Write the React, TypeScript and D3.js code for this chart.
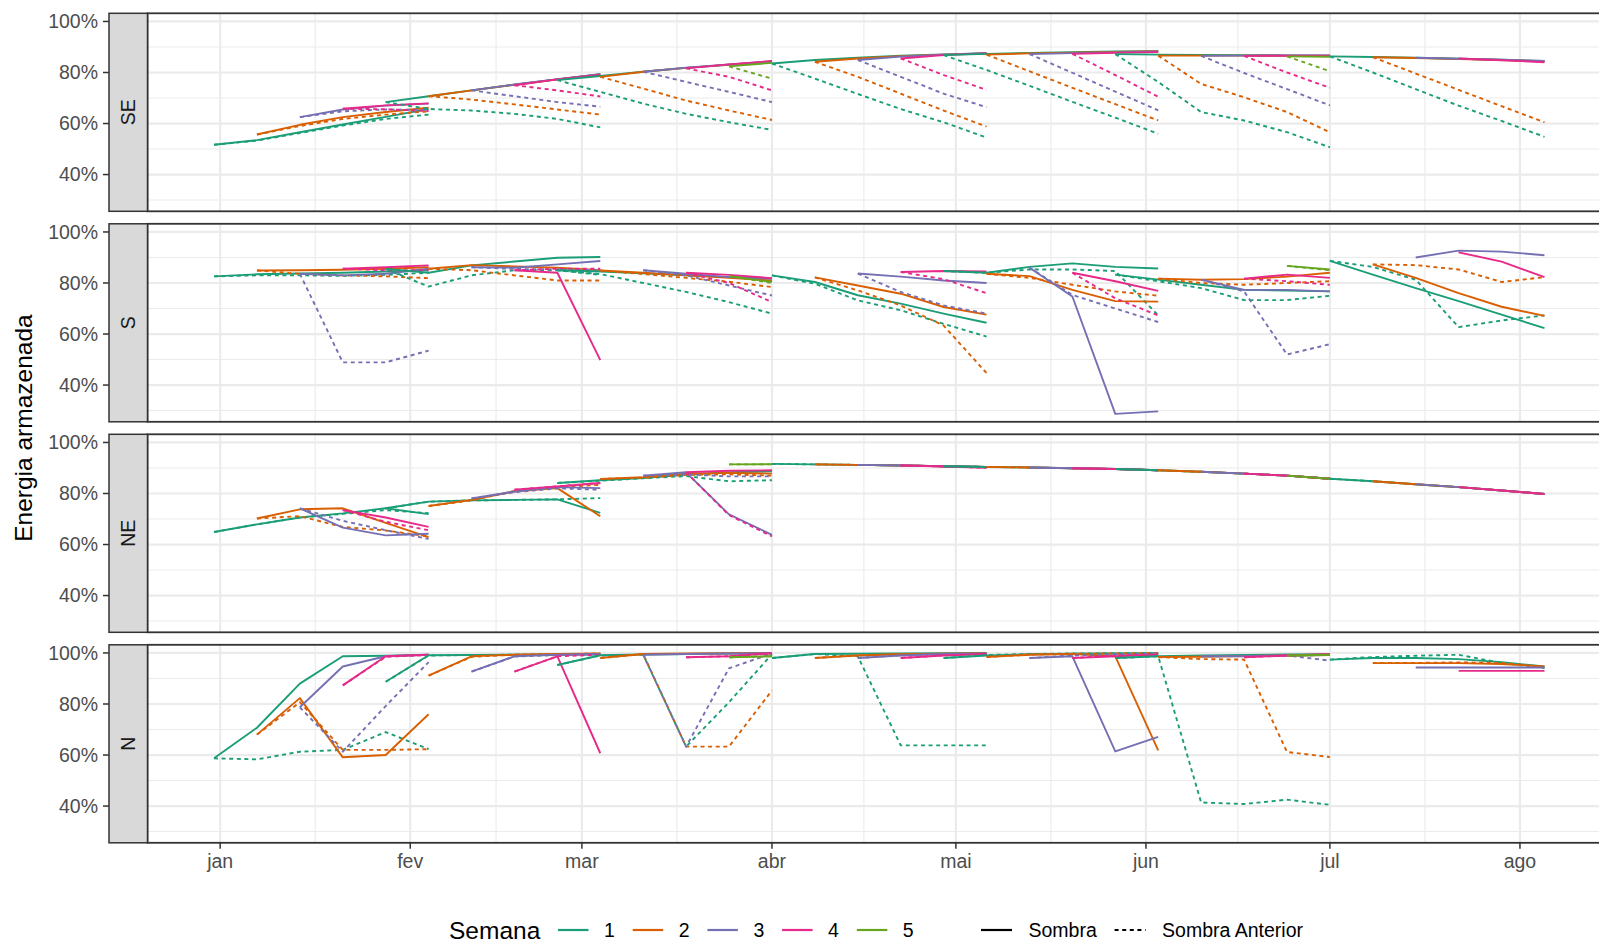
import React, { useEffect } from "react";
import * as d3 from "d3";

// Weekly reference dates (end of each operative week)
const weekDates = [
  "2021-12-31", "2022-01-07", "2022-01-14", "2022-01-21", "2022-01-28", "2022-02-04",
  "2022-02-11", "2022-02-18", "2022-02-25", "2022-03-04", "2022-03-11", "2022-03-18",
  "2022-03-25", "2022-04-01", "2022-04-08", "2022-04-15", "2022-04-22", "2022-04-29",
  "2022-05-06", "2022-05-13", "2022-05-20", "2022-05-27", "2022-06-03", "2022-06-10",
  "2022-06-17", "2022-06-24", "2022-07-01", "2022-07-08", "2022-07-15", "2022-07-22",
  "2022-07-29", "2022-08-05",
];

// Each run starts at one of the weekly dates and has one value per following week
const runStartIndex = [0, 1, 2, 3, 4, 5, 6, 7, 8, 9, 10, 11, 12, 13, 14, 15, 16, 17, 18, 19, 20, 21, 22, 23, 24, 25, 26, 27, 28, 29];
const runWeek = [1, 2, 3, 4, 1, 2, 3, 4, 1, 2, 3, 4, 5, 1, 2, 3, 4, 1, 2, 3, 4, 1, 2, 3, 4, 5, 1, 2, 3, 4];

const subsystems = ["SE", "S", "NE", "N"];
const weekLabels = ["1", "2", "3", "4", "5"];
const weekColors = ["#1B9E77", "#D95F02", "#7570B3", "#E7298A", "#66A61E"];
const linetypeLabels = ["Sombra", "Sombra Anterior"];
const monthLabels = ["jan", "fev", "mar", "abr", "mai", "jun", "jul", "ago"];
const yMajor = [40, 60, 80, 100];
const yMinor = [30, 50, 70, 90];

type Run = number[] | null;

// ---- SE ----
const seSombra: Run[] = [
  [51.7, 53.5, 56.6, 59.6, 62.6, 65.7], [55.7, 59.5, 62.5, 64.5, 66.2], [62.5, 65.5, 67, 67.8], [65.8, 67.1, 67.9],
  [68.4, 70.7, 73, 75.2, 77.3, 79.3], [70.7, 73, 75.2, 77.3, 79.2], [73, 75.3, 77.4, 79.3], [75, 77.3, 79.1],
  [77, 78.6, 80.3, 81.8, 83, 84], [78.3, 80.3, 81.8, 83.1, 84.2], [80.3, 81.9, 83.2, 84.3], [81.6, 83.2, 84.5], [82.4, 83.8],
  [83.5, 84.9, 85.8, 86.6, 87.1, 87.6], [84.2, 85.5, 86.4, 87, 87.5], [84.9, 86.2, 87, 87.6], [85.5, 86.8, 87.5],
  [86.8, 87.3, 87.7, 88, 88.2, 88.3], [87, 87.5, 87.8, 88.1, 88.3], [87.2, 87.6, 87.9, 88.2], [87.3, 87.7, 88],
  [87.2, 87, 86.9, 86.8, 86.7, 86.6], [86.6, 86.6, 86.6, 86.5, 86.5], [86.5, 86.6, 86.7, 86.7], [86.5, 86.6, 86.6], [86.3, 86.2],
  [86.3, 86.1, 85.8, 85.4, 85, 84.5], [86, 85.7, 85.3, 84.9, 84.4], [85.8, 85.4, 85, 84.5], [85.5, 84.8, 84],
];
const seAnterior: Run[] = [
  [51.7, 53.3, 56.3, 59.2, 61.8, 63.5], [55.7, 59, 61.8, 63.5, 64.8], [62.5, 64.8, 65.5, 65.3], [65.8, 65.6, 64.9],
  [68.4, 65.7, 65.1, 63.8, 61.8, 58.5], [70.7, 69.4, 67.5, 65.5, 63.5], [73, 70.7, 68.4, 66.6], [75, 73, 70.6],
  [77, 72.4, 67.8, 63.8, 60.5, 57.5], [78.3, 73.7, 69, 65.1, 61.4], [80.3, 76.3, 72.4, 68.4], [81.6, 78.3, 73], [82.4, 77.6],
  [83.5, 77.6, 71.6, 65.7, 60.5, 54.5], [84.2, 78.3, 71.7, 65.1, 58.8], [84.9, 78.3, 71.7, 66.4], [85.5, 79, 73.2],
  [86.8, 81, 74.8, 68.5, 62.3, 56], [87, 80.5, 74, 67.6, 61.2], [87.2, 79.9, 72.5, 65.2], [87.3, 79, 70.5],
  [87.2, 76.3, 64.5, 61.2, 56.6, 50.7], [86.6, 75.5, 70.3, 64.5, 56.6], [86.5, 79.8, 73.5, 67.1], [86.5, 80, 74], [86.3, 80.5],
  [86.3, 80, 73.5, 67, 61, 54.8], [86, 79.6, 73.2, 66.8, 60.5], null, null,
];

// ---- S ----
const sSombra: Run[] = [
  [82.6, 83.4, 83.7, 84, 84.5, 85], [84.9, 85, 85.2, 85.6, 86.2], [83.6, 83, 83.6, 85.6], [85.6, 86.2, 86.9],
  [85.5, 84, 86.9, 88.4, 89.9, 90.2], [85.6, 87, 86.5, 86, 85], [86.2, 86, 87.3, 88.6], [85, 84, 49.8],
  [85, 84.5, 83.8, 83, 82.3, 81.7], [84.9, 84, 83, 82, 81], [85, 83.6, 82.3, 81.7], [84, 83.2, 81.9], [82.7, 80.4],
  [83, 80.4, 75.2, 71.9, 68, 64.4], [82.2, 79, 75.8, 70.6, 67.6], [83.7, 82.5, 81, 80], [84.3, 84.7, 84.5],
  [84.7, 84, 86.3, 87.7, 86.3, 85.7], [83.6, 82.7, 77.3, 72.9, 72.7], [86, 74.7, 28.7, 29.7], [84, 80.7, 76.9],
  [83.3, 81.3, 79.3, 77.3, 77, 76.7], [81.7, 81.3, 81.5, 82.5, 84], [81.3, 77.3, 77.3, 76.7], [81.7, 83.3, 82], [86.7, 85.3],
  [88.7, 83.3, 78, 72.9, 67.6, 62.3], [87.3, 82, 76, 70.7, 67.1], [90, 92.7, 92.3, 90.9], [92, 88.4, 82.3],
];
const sAnterior: Run[] = [
  [82.6, 83, 83, 82.8, 83.2, 84], [84.9, 83.6, 83, 82.6, 81.9], [83.6, 48.9, 48.9, 53.5], [85.6, 85, 85],
  [85.5, 78.6, 83, 85, 85, 83.2], [85.6, 85, 83, 81, 81], [86.2, 85.5, 85.3, 85], [85, 85.6, 85.6],
  [85, 83.5, 80, 76.5, 72.5, 68], [84.9, 83.5, 82, 80.5, 78.4], [85, 83, 79, 75.1], [84, 80, 72.5], [82.7, 80],
  [83, 79.7, 73.2, 69.3, 64, 59], [82.2, 77.1, 71.2, 63.3, 44.7], [83.7, 76.5, 71.2, 68], [84.3, 81.5, 76],
  [84.7, 84, 85.3, 85.3, 84.7, 67.3], [83.6, 82, 79.3, 76.7, 75], [86, 75.3, 70, 64.7], [84, 74, 67.3],
  [83.3, 80.7, 78, 73.3, 73.3, 75], [81.7, 80, 79.3, 80, 80.7], [81.3, 76.7, 52, 56], [81.7, 80.7, 79.3], [86.7, 85],
  [88.7, 86.3, 81.3, 62.7, 65.3, 67.3], [87.3, 87, 85.3, 80.4, 82.3], null, null,
];

// ---- NE ----
const neSombra: Run[] = [
  [64.9, 67.9, 70.6, 72.2, 74.2, 71.9], [70.2, 73.8, 74.2, 68.5, 62.9], [74.2, 66.6, 63.6, 64.2], [73.5, 70.6, 66.9],
  [74.2, 76.8, 77.3, 77.5, 77.7, 72.4], [75.1, 77.5, 80.8, 82.1, 71.1], [78.1, 80.8, 82.5, 82.1], [81.5, 82.8, 84.1],
  [84.1, 85.2, 86.1, 87.4, 88.3, 88.7], [85.7, 86.4, 87.8, 88.1, 87.8], [87, 88.3, 71.8, 63.8], [88.3, 88.9, 89.1], [91.4, 91.5],
  [91.6, 91.4, 91.2, 91, 90.7, 90.4], [91.4, 91.2, 91, 90.7, 90.4], [91.2, 91, 90.7, 90.4], [91, 90.6, 90.1],
  [90.7, 90.4, 90.2, 89.9, 89.6, 89.1], [90.4, 90.2, 89.9, 89.6, 89.1], [90.2, 89.9, 89.6, 89.1], [89.9, 89.6, 89.1],
  [89.6, 89.1, 88.5, 87.8, 87, 85.8], [89.1, 88.5, 87.8, 87, 85.8], [88.5, 87.8, 87, 85.8], [87.8, 87, 85.8], [87, 85.8],
  [85.8, 84.8, 83.6, 82.5, 81.2, 79.8], [84.8, 83.6, 82.5, 81.2, 79.8], [83.6, 82.5, 81.2, 79.8], [82.5, 81.2, 79.8],
];
const neAnterior: Run[] = [
  [64.9, 67.9, 70.6, 72, 73.5, 72.3], [70.2, 71.1, 66.9, 65.5, 63.2], [74.2, 69.3, 65.6, 62.2], [73.5, 68.9, 65.6],
  [74.2, 76.8, 77.3, 77.5, 77.7, 78.2], [75.1, 77.3, 81, 82.5, 83.4], [78.1, 80.5, 82, 81.5], [81.5, 82.8, 84.1],
  [84.1, 85, 86, 86.8, 84.8, 85.2], [85.7, 86.2, 87.3, 87.5, 87], [87, 87.5, 86.7, 86.7], [88.3, 71.5, 63.2], [91.4, 91.4],
  [91.6, 91.4, 91.2, 91, 90.7, 90.4], [91.4, 91.2, 91, 90.7, 90.4], [91.2, 91, 90.7, 90.4], [91, 90.6, 90.1],
  [90.7, 90.4, 90.2, 89.9, 89.6, 89.1], [90.4, 90.2, 89.9, 89.6, 89.1], [90.2, 89.9, 89.6, 89.1], [89.9, 89.6, 89.1],
  [89.6, 89.1, 88.5, 87.8, 87, 85.8], [89.1, 88.5, 87.8, 87, 85.8], [88.5, 87.8, 87, 85.8], [87.8, 87, 85.8], [87, 85.8],
  [85.8, 84.8, 83.6, 82.5, 81.2, 79.8], [84.8, 83.6, 82.5, 81.2, 79.8], null, null,
];

// ---- N ----
const nSombra: Run[] = [
  [58.7, 70.7, 88, 98.7, 98.9, 99.3], [68, 82.3, 59.1, 60, 76], [78.7, 94.7, 98.7, 99.3], [87.3, 98.7, 99.3],
  [88.7, 99.1, 99.2, 99.3, 99.4, 99.5], [91.1, 98.7, 99.3, 99.6, 99.8], [92.7, 98.7, 99.3, 99.6], [92.7, 98.7, 60.7],
  [95.3, 99.1, 99.4, 99.6, 99.8, 99.9], [98, 99.6, 99.8, 99.9, 100], [99.3, 99.6, 99.8, 99.9], [98.3, 98.7, 99.9], [98.3, 98.7],
  [98, 99.6, 99.7, 99.8, 99.9, 100], [98, 99, 99.5, 99.7, 99.8], [98, 99, 99.6, 99.7], [98, 99, 99.6],
  [98, 99, 99.5, 99.7, 99.8, 99.9], [98.4, 99.3, 99.6, 98.7, 61.8], [98, 98.7, 61.4, 67.1], [98, 98.7, 99.3],
  [98, 98.7, 99, 99.2, 99.4, 99.5], [98.4, 98.5, 98.8, 99, 99.2], [98.7, 98.7, 99, 99.2], [98.3, 99, 99.6], [99, 99.3],
  [97.4, 98, 98, 97.6, 96.4, 94.7], [96, 96, 96, 95.7, 94.7], [94.3, 94.3, 94.3, 94.3], [93, 93, 93],
];
const nAnterior: Run[] = [
  [58.7, 58.3, 61.3, 62, 69, 62.3], [68, 80.7, 62, 62, 62.3], [78.7, 61.3, 79.2, 96.4], [87.3, 98.5, 99.2],
  [88.7, 99, 99.2, 99.3, 99.4, 99.5], [91.1, 98.5, 99.3, 99.5, 99.8], [92.7, 98.6, 99.2, 99.5], [92.7, 98.7, 99.3],
  [95.3, 99, 99.3, 63.3, 80.7, 99.5], [98, 99.6, 63.3, 63.3, 85.3], [99.3, 63.3, 94, 99.8], [98.3, 98.7, 99.9], [98.3, 98.7],
  [98, 99.6, 98.7, 63.8, 63.8, 63.8], [98, 99.1, 99.5, 99.7, 99.8], [98, 99.1, 99.6, 99.8], [98, 99.1, 99.6],
  [98, 99.2, 99.6, 99.8, 99.9, 100], [98.4, 99.4, 99.7, 99.8, 99.9], [98, 99, 99.5, 99.7], [98, 99, 99.5],
  [98, 98.7, 41.4, 40.8, 42.5, 40.5], [98.4, 97.6, 97.4, 61.2, 59.2], [98.7, 98.8, 99, 97], [98.3, 99, 99.4], [99, 99.2],
  [97.4, 98.4, 98.9, 99.3, 96.1, 94.1], [96, 96.1, 96.3, 96.1, 94.5], null, null,
];

const panelSeries: { sombra: Run[]; anterior: Run[] }[] = [
  { sombra: seSombra, anterior: seAnterior },
  { sombra: sSombra, anterior: sAnterior },
  { sombra: neSombra, anterior: neAnterior },
  { sombra: nSombra, anterior: nAnterior },
];

// ---- layout ----
const W = 1599;
const H = 942;
const stripLeft = 109;
const panelLeft = 147.5;
const panelRight = 1611;
const panelTop0 = 13.3;
const panelH = 198;
const panelGap = 12.5;
const FONT = "'Liberation Sans', Arial, Helvetica, sans-serif";
const DASH = "4 3.6";
const LINE_W = 1.9;

const parse = d3.timeParse("%Y-%m-%d");
const dates = weekDates.map((s) => parse(s) as Date);

export default function App() {
  useEffect(() => {
    document.body.style.margin = "0";
  }, []);

  const [d0, d1] = d3.extent(dates) as [Date, Date];
  const span = +d1 - +d0;
  const x = d3
    .scaleTime()
    .domain([new Date(+d0 - span * 0.05), new Date(+d1 + span * 0.05)])
    .range([panelLeft, panelRight]);

  const majorX = d3.timeMonth.range(new Date(2022, 0, 1), new Date(2022, 7, 2));
  const minorX = majorX.slice(1).map((m, i) => new Date((+m + +majorX[i]) / 2));

  const panels = subsystems.map((name, i) => {
    const top = panelTop0 + i * (panelH + panelGap);
    const bottom = top + panelH;
    const y = d3.scaleLinear().domain([25.6, 103.2]).range([bottom, top]);
    return { name, top, bottom, y, series: panelSeries[i] };
  });

  const lastBottom = panels[panels.length - 1].bottom;

  const lineFor = (y: d3.ScaleLinear<number, number>) =>
    d3
      .line<[Date, number]>()
      .x((d) => x(d[0]))
      .y((d) => y(d[1]));

  const runPoints = (run: number[], r: number): [Date, number][] =>
    run.map((v, k) => [dates[runStartIndex[r] + k], v]);

  return (
    <svg width={W} height={H} style={{ display: "block", background: "#fff" }} fontFamily={FONT}>
      <defs>
        {panels.map((p, i) => (
          <clipPath id={`clip-${i}`} key={i}>
            <rect x={panelLeft} y={p.top} width={panelRight - panelLeft} height={panelH} />
          </clipPath>
        ))}
      </defs>

      {panels.map((p, i) => {
        const line = lineFor(p.y);
        return (
          <g key={p.name}>
            <rect x={panelLeft} y={p.top} width={panelRight - panelLeft} height={panelH} fill="#fff" />
            {/* grid */}
            {yMinor.map((v) => (
              <line key={`ym${v}`} x1={panelLeft} x2={panelRight} y1={p.y(v)} y2={p.y(v)} stroke="#EBEBEB" strokeWidth={1.1} />
            ))}
            {minorX.map((d, k) => (
              <line key={`xm${k}`} x1={x(d)} x2={x(d)} y1={p.top} y2={p.bottom} stroke="#EBEBEB" strokeWidth={1.1} />
            ))}
            {yMajor.map((v) => (
              <line key={`yM${v}`} x1={panelLeft} x2={panelRight} y1={p.y(v)} y2={p.y(v)} stroke="#EBEBEB" strokeWidth={2.2} />
            ))}
            {majorX.map((d, k) => (
              <line key={`xM${k}`} x1={x(d)} x2={x(d)} y1={p.top} y2={p.bottom} stroke="#EBEBEB" strokeWidth={2.2} />
            ))}

            {/* series */}
            <g clipPath={`url(#clip-${i})`} fill="none" strokeLinejoin="round">
              {runWeek.map((w, r) => {
                const s = p.series.sombra[r];
                const a = p.series.anterior[r];
                const color = weekColors[w - 1];
                return (
                  <g key={r}>
                    {s && <path d={line(runPoints(s, r)) || ""} stroke={color} strokeWidth={LINE_W} />}
                    {a && (
                      <path d={line(runPoints(a, r)) || ""} stroke={color} strokeWidth={LINE_W} strokeDasharray={DASH} />
                    )}
                  </g>
                );
              })}
            </g>

            {/* panel border */}
            <rect x={panelLeft} y={p.top} width={panelRight - panelLeft} height={panelH} fill="none" stroke="#333333" strokeWidth={1.8} />

            {/* strip */}
            <rect x={stripLeft} y={p.top} width={panelLeft - stripLeft} height={panelH} fill="#D9D9D9" stroke="#333333" strokeWidth={1.5} />
            <text
              transform={`translate(${(stripLeft + panelLeft) / 2 + 7},${(p.top + p.bottom) / 2}) rotate(-90)`}
              textAnchor="middle"
              fontSize={19.5}
              fill="#1A1A1A"
            >
              {p.name}
            </text>

            {/* y axis */}
            {yMajor.map((v) => (
              <g key={`yt${v}`}>
                <line x1={stripLeft - 6} x2={stripLeft} y1={p.y(v)} y2={p.y(v)} stroke="#333333" strokeWidth={1.5} />
                <text x={stripLeft - 11} y={p.y(v)} dy="0.35em" textAnchor="end" fontSize={19.5} fill="#4D4D4D">
                  {`${v}%`}
                </text>
              </g>
            ))}
          </g>
        );
      })}

      {/* x axis */}
      {majorX.map((d, k) => (
        <g key={`xt${k}`}>
          <line x1={x(d)} x2={x(d)} y1={lastBottom} y2={lastBottom + 6} stroke="#333333" strokeWidth={1.5} />
          <text x={x(d)} y={lastBottom + 25} textAnchor="middle" fontSize={19.5} fill="#4D4D4D">
            {monthLabels[k]}
          </text>
        </g>
      ))}

      {/* y title */}
      <text
        transform={`translate(32,${(panels[0].top + lastBottom) / 2}) rotate(-90)`}
        textAnchor="middle"
        fontSize={24.5}
        fill="#000"
      >
        Energia armazenada
      </text>

      {/* legend */}
      <g>
        <text x={449} y={938.5} fontSize={24.5} fill="#000">
          Semana
        </text>
        {weekLabels.map((lab, k) => {
          const kx = 558 + k * 74.7;
          return (
            <g key={lab}>
              <line x1={kx} x2={kx + 30.5} y1={930} y2={930} stroke={weekColors[k]} strokeWidth={2.2} />
              <text x={kx + 46} y={937} fontSize={19.5} fill="#000">
                {lab}
              </text>
            </g>
          );
        })}
        {linetypeLabels.map((lab, k) => {
          const kx = k === 0 ? 981 : 1114.6;
          return (
            <g key={lab}>
              <line
                x1={kx}
                x2={kx + 31}
                y1={930}
                y2={930}
                stroke="#000"
                strokeWidth={2.2}
                strokeDasharray={k === 1 ? DASH : undefined}
              />
              <text x={kx + 47.5} y={937} fontSize={19.5} fill="#000">
                {lab}
              </text>
            </g>
          );
        })}
      </g>
    </svg>
  );
}
